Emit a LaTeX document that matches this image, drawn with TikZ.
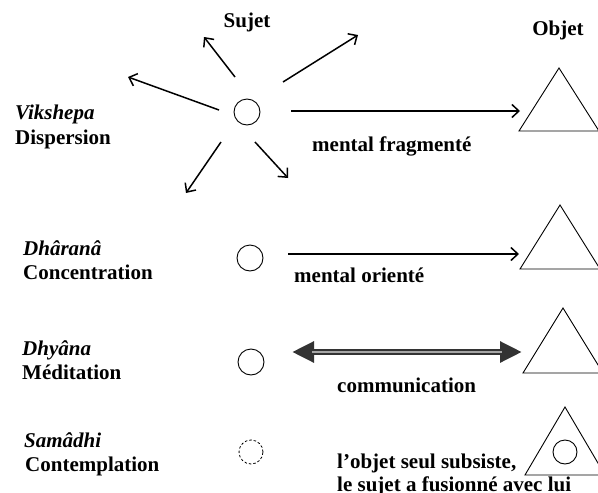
\documentclass[tikz,border=0pt]{standalone}
\usepackage{fontspec}
\setmainfont{Liberation Serif}
\usetikzlibrary{arrows.meta}
\begin{document}
\begin{tikzpicture}[x=1pt,y=-1pt,
  font=\fontsize{21}{24}\selectfont\bfseries,
  lbl/.style={anchor=base west, inner sep=0},
  clbl/.style={anchor=base, inner sep=0},
  subj/.style={circle, draw, line width=0.9pt, minimum size=26pt, inner sep=0},
  arr/.style={line width=1.5pt, -{Straight Barb[length=7pt,width=13pt,line width=1.5pt]}},
  tri/.style={line width=0.9pt, line join=miter}]
\useasboundingbox (0,0) rectangle (598,493);
\clip (0,0) rectangle (598,493);
% titles
\node[clbl] (sujet) at (247,27) {Sujet};
\node[clbl] (objet) at (558,35) {Objet};
% row 1
\node[lbl] (vik) at (15,119) {\itshape Vikshepa};
\node[lbl] (disp) at (15,144) {Dispersion};
\node[subj] (c1) at (247,112) {};
\draw[tri] (519,131) -- (559,68) -- (599,131) -- cycle;
\coordinate (t1) at (520,111);
\coordinate (s1r) at (291,111);
\coordinate (s1a) at (235,77);  \coordinate (e1a) at (204,37);
\coordinate (s1b) at (219,110); \coordinate (e1b) at (128,77);
\coordinate (s1c) at (221,142); \coordinate (e1c) at (186,193);
\coordinate (s1d) at (255,142); \coordinate (e1d) at (288,178);
\coordinate (s1e) at (283,82);  \coordinate (e1e) at (358,35);
\draw[arr] (s1r) -- (t1);
\draw[arr] (s1a) -- (e1a);
\draw[arr] (s1b) -- (e1b);
\draw[arr] (s1c) -- (e1c);
\draw[arr] (s1d) -- (e1d);
\draw[arr] (s1e) -- (e1e);
\node[lbl] (mf) at (312,151) {mental fragmenté};
% row 2
\node[lbl] (dha) at (23,255) {\itshape Dhâranâ};
\node[lbl] (conc) at (23,279) {Concentration};
\node[subj] (c2) at (250,258) {};
\draw[tri] (520,269) -- (560,205) -- (600,269) -- cycle;
\coordinate (s2) at (288,254);
\coordinate (t2) at (519,254);
\draw[arr] (s2) -- (t2);
\node[lbl] (mo) at (294,282) {mental orienté};
% row 3
\node[lbl] (dhy) at (22,355) {\itshape Dhyâna};
\node[lbl] (med) at (22,379) {Méditation};
\node[subj] (c3) at (251,362) {};
\draw[tri] (523,373) -- (563,308) -- (603,373) -- cycle;
\coordinate (l3) at (292,352);
\coordinate (r3) at (522,352);
\draw[line width=6.5pt, black!80,
  {Triangle[length=22pt,width=20pt]}-{Triangle[length=22pt,width=20pt]}] (l3) -- (r3);
\draw[line width=2.2pt, black!35, shorten <=20pt, shorten >=20pt] (l3) -- (r3);
\node[lbl] (com) at (337,392) {communication};
% row 4
\node[lbl] (sam) at (24,447) {\itshape Samâdhi};
\node[lbl] (cont) at (25,471) {Contemplation};
\node[subj, dashed, minimum size=24pt, line width=0.8pt, dash pattern=on 2.5pt off 2pt] (c4) at (251,452) {};
\draw[tri] (525,475) -- (565,407) -- (605,475) -- cycle;
\node[subj, minimum size=24pt] (c4in) at (565,452) {};
\node[lbl] (os1) at (337,468) {l’objet seul subsiste,};
\node[lbl] (os2) at (337,491) {le sujet a fusionné avec lui};
\end{tikzpicture}
\end{document}
